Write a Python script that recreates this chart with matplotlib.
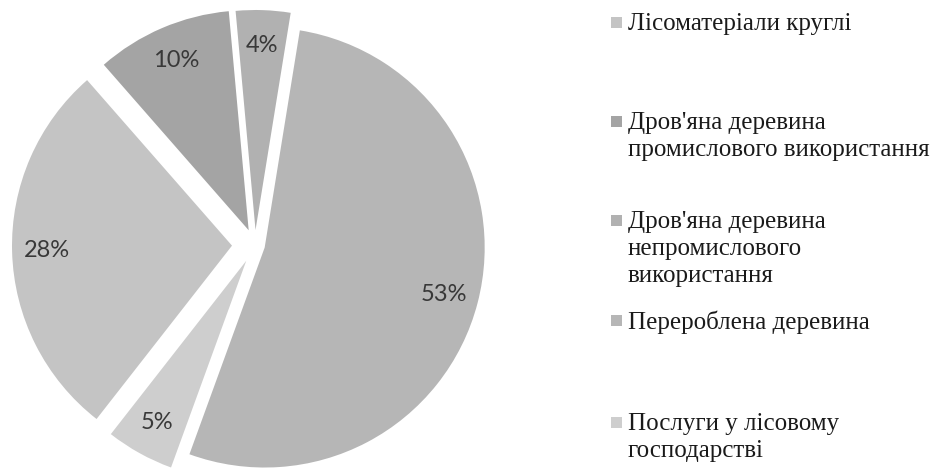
import matplotlib.pyplot as plt
from matplotlib.patches import Rectangle

# Частки (у порядку легенди)
categories = ["Лісоматеріали круглі",
              "Дров'яна деревина\nпромислового використання",
              "Дров'яна деревина\nнепромислового\nвикористання",
              "Перероблена деревина",
              "Послуги у лісовому\nгосподарстві"]
shares = [28, 10, 4, 53, 5]
colors = ['#c4c4c4', '#a4a4a4', '#b1b1b1', '#b6b6b6', '#cecece']

if __name__ == '__main__':
    fig = plt.figure(figsize=(9.41, 4.69), dpi=100)
    ax = fig.add_axes([0, 0, 1, 1])

    explode = [23, 16, 15, 10, 18]  # відступ секторів, пікселі
    wedges, texts, autotexts = ax.pie(
        shares, colors=colors, explode=explode, center=(255, 224), radius=220,
        startangle=232, counterclock=False,
        autopct=lambda p: '%.0f%%' % p, pctdistance=0.84,
        textprops={'family': 'Lato', 'fontsize': 17, 'color': '#383838'},
        frame=True)
    ax.set_xlim(0, 941)
    ax.set_ylim(0, 469)
    ax.set_aspect('equal')
    ax.axis('off')

    # Легенда
    legend_y = [447, 348, 249, 149, 47]  # центр маркера, пікселі знизу
    for lab, col, y in zip(categories, colors, legend_y):
        ax.add_patch(Rectangle((611, y - 6), 11, 11, color=col, lw=0))
        ax.text(628, y + 9, lab, family='Liberation Serif', fontsize=18,
                color='#1a1a1a', va='top', ha='left', linespacing=1.3)

    fig.savefig('out.png', dpi=100)
